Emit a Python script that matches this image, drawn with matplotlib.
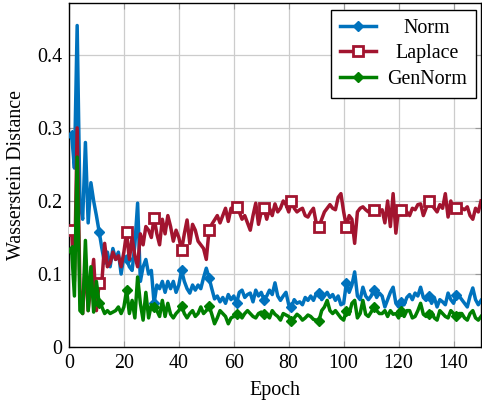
import numpy as np
import matplotlib
matplotlib.use("Agg")
import matplotlib.pyplot as plt
from matplotlib.transforms import Affine2D

plt.rcParams['font.family'] = ['Liberation Serif', 'DejaVu Serif']
plt.rcParams['mathtext.fontset'] = 'stix'

epochs = list(range(1, 151))

norm = [0.29, 0.245, 0.44, 0.20, 0.175, 0.28, 0.17, 0.225, 0.20, 0.18,
        0.158, 0.135, 0.115, 0.13, 0.11, 0.135, 0.12, 0.13, 0.10, 0.125,
        0.12, 0.11, 0.105, 0.14, 0.197, 0.09, 0.11, 0.12, 0.10, 0.105,
        0.06, 0.085, 0.08, 0.09, 0.075, 0.09, 0.08, 0.09, 0.075, 0.085,
        0.105, 0.09, 0.08, 0.074, 0.085, 0.078, 0.085, 0.08, 0.095, 0.108,
        0.095, 0.08, 0.066, 0.07, 0.062, 0.068, 0.06, 0.072, 0.065, 0.07,
        0.06, 0.075, 0.078, 0.068, 0.072, 0.074, 0.062, 0.078, 0.07, 0.075,
        0.065, 0.07, 0.078, 0.072, 0.088, 0.07, 0.064, 0.07, 0.075, 0.058,
        0.055, 0.065, 0.06, 0.062, 0.058, 0.068, 0.064, 0.07, 0.064, 0.073,
        0.074, 0.065, 0.07, 0.075, 0.068, 0.072, 0.064, 0.07, 0.058, 0.06,
        0.088, 0.075, 0.085, 0.103, 0.07, 0.065, 0.082, 0.07, 0.065, 0.07,
        0.078, 0.068, 0.074, 0.07, 0.055, 0.065, 0.075, 0.082, 0.06, 0.055,
        0.062, 0.058, 0.068, 0.072, 0.065, 0.074, 0.07, 0.082, 0.068, 0.064,
        0.07, 0.06, 0.068, 0.055, 0.065, 0.062, 0.058, 0.074, 0.065, 0.06,
        0.071, 0.07, 0.065, 0.06, 0.055, 0.07, 0.081, 0.065, 0.058, 0.064]

laplace = [0.16, 0.09, 0.30, 0.08, 0.046, 0.12, 0.05, 0.085, 0.12, 0.05,
           0.088, 0.09, 0.142, 0.11, 0.115, 0.13, 0.12, 0.125, 0.11, 0.13,
           0.157, 0.12, 0.15, 0.125, 0.11, 0.155, 0.14, 0.165, 0.16, 0.15,
           0.177, 0.155, 0.14, 0.175, 0.155, 0.18, 0.165, 0.145, 0.16, 0.15,
           0.133, 0.155, 0.174, 0.142, 0.168, 0.16, 0.145, 0.14, 0.135, 0.12,
           0.16, 0.168, 0.174, 0.18, 0.17, 0.18, 0.19, 0.172, 0.19, 0.185,
           0.192, 0.185, 0.175, 0.18, 0.17, 0.16, 0.18, 0.197, 0.168, 0.185,
           0.19, 0.175, 0.19, 0.18, 0.196, 0.185, 0.19, 0.2, 0.195, 0.185,
           0.2, 0.19, 0.185, 0.188, 0.19, 0.18, 0.178, 0.185, 0.19, 0.17,
           0.165, 0.175, 0.185, 0.19, 0.195, 0.19, 0.188, 0.205, 0.21, 0.185,
           0.165, 0.18, 0.175, 0.142, 0.185, 0.19, 0.192, 0.188, 0.185, 0.19,
           0.188, 0.19, 0.185, 0.188, 0.17, 0.2, 0.165, 0.21, 0.156, 0.19,
           0.188, 0.19, 0.185, 0.18, 0.19, 0.188, 0.195, 0.196, 0.18, 0.19,
           0.2, 0.195, 0.19, 0.185, 0.195, 0.19, 0.21, 0.178, 0.2, 0.185,
           0.19, 0.185, 0.19, 0.188, 0.192, 0.18, 0.175, 0.19, 0.185, 0.2]

gennorm = [0.133, 0.07, 0.26, 0.05, 0.046, 0.146, 0.05, 0.11, 0.048, 0.09,
           0.06, 0.055, 0.046, 0.05, 0.046, 0.048, 0.05, 0.055, 0.046, 0.055,
           0.078, 0.046, 0.064, 0.04, 0.096, 0.06, 0.037, 0.075, 0.04, 0.058,
           0.055, 0.05, 0.042, 0.064, 0.042, 0.06, 0.045, 0.04, 0.046, 0.05,
           0.057, 0.046, 0.04, 0.046, 0.05, 0.042, 0.046, 0.055, 0.046, 0.05,
           0.057, 0.045, 0.032, 0.04, 0.05, 0.046, 0.042, 0.032, 0.04, 0.042,
           0.046, 0.045, 0.04, 0.046, 0.05, 0.046, 0.042, 0.04, 0.046, 0.048,
           0.046, 0.044, 0.04, 0.05, 0.045, 0.042, 0.037, 0.046, 0.044, 0.042,
           0.036, 0.04, 0.045, 0.042, 0.037, 0.04, 0.044, 0.042, 0.038, 0.037,
           0.036, 0.05, 0.055, 0.064, 0.05, 0.046, 0.05, 0.045, 0.04, 0.037,
           0.05, 0.045, 0.06, 0.064, 0.04, 0.046, 0.064, 0.045, 0.042, 0.048,
           0.055, 0.05, 0.046, 0.046, 0.05, 0.042, 0.05, 0.045, 0.046, 0.04,
           0.05, 0.042, 0.05, 0.05, 0.04, 0.042, 0.05, 0.06, 0.045, 0.042,
           0.046, 0.048, 0.04, 0.037, 0.05, 0.046, 0.042, 0.04, 0.05, 0.046,
           0.042, 0.046, 0.046, 0.04, 0.037, 0.046, 0.05, 0.04, 0.037, 0.042]

labels = ["Norm", "Laplace", "GenNorm"]
colors = ["#0072BD", "#A2142F", "#008000"]

fig = plt.figure(figsize=(4.82, 4.07), dpi=100)
ax = fig.add_axes([0.143, 0.147, 0.855, 0.846])

lw = 2.5
fs = 14.4
ax.plot(epochs, norm, color=colors[0], lw=lw, marker='D', markersize=5.5,
        markevery=10, markerfacecolor=colors[0], markeredgecolor=colors[0],
        label=labels[0], zorder=3)
ax.plot(epochs, laplace, color=colors[1], lw=lw, marker='s', markersize=7.5,
        markevery=10, markerfacecolor='white', markeredgecolor=colors[1],
        markeredgewidth=2.0, label=labels[1], zorder=3)
ax.plot(epochs, gennorm, color=colors[2], lw=lw, marker='D', markersize=5.5,
        markevery=10, markerfacecolor=colors[2], markeredgecolor=colors[2],
        label=labels[2], zorder=3)

ax.set_xlim(0, 150)
ax.set_ylim(0, 0.471)
ax.set_xticks(np.arange(0, 141, 20))
ax.set_yticks([0, 0.1, 0.2, 0.3, 0.4])
ax.set_yticklabels(["0", "0.1", "0.2", "0.3", "0.4"])
ax.grid(True, color='#cccccc', lw=0.9)
ax.set_axisbelow(True)
ax.tick_params(direction='in', top=True, right=True, labelsize=fs,
               length=4, color='#999999', pad=5)
for s in ax.spines.values():
    s.set_linewidth(1.0)
ax.set_xlabel("Epoch", fontsize=fs, labelpad=6)
ax.set_ylabel("Wasserstein Distance", fontsize=fs, labelpad=8)

leg = ax.legend(loc='upper right', fontsize=fs, fancybox=False,
                framealpha=1, edgecolor='black', handlelength=1.8,
                handletextpad=0.55, borderpad=0.45, labelspacing=0.32,
                borderaxespad=0.0, bbox_to_anchor=(0.988, 0.98))
leg.get_frame().set_linewidth(1.0)

# center legend texts within their column
fig.canvas.draw()
renderer = fig.canvas.get_renderer()
txts = leg.get_texts()
widths = [t.get_window_extent(renderer).width for t in txts]
maxw = max(widths)
for t, w in zip(txts, widths):
    dx = (maxw - w) / 2.0
    t.set_transform(t.get_transform() + Affine2D().translate(dx, 0))

fig.savefig("out.png", dpi=100)
